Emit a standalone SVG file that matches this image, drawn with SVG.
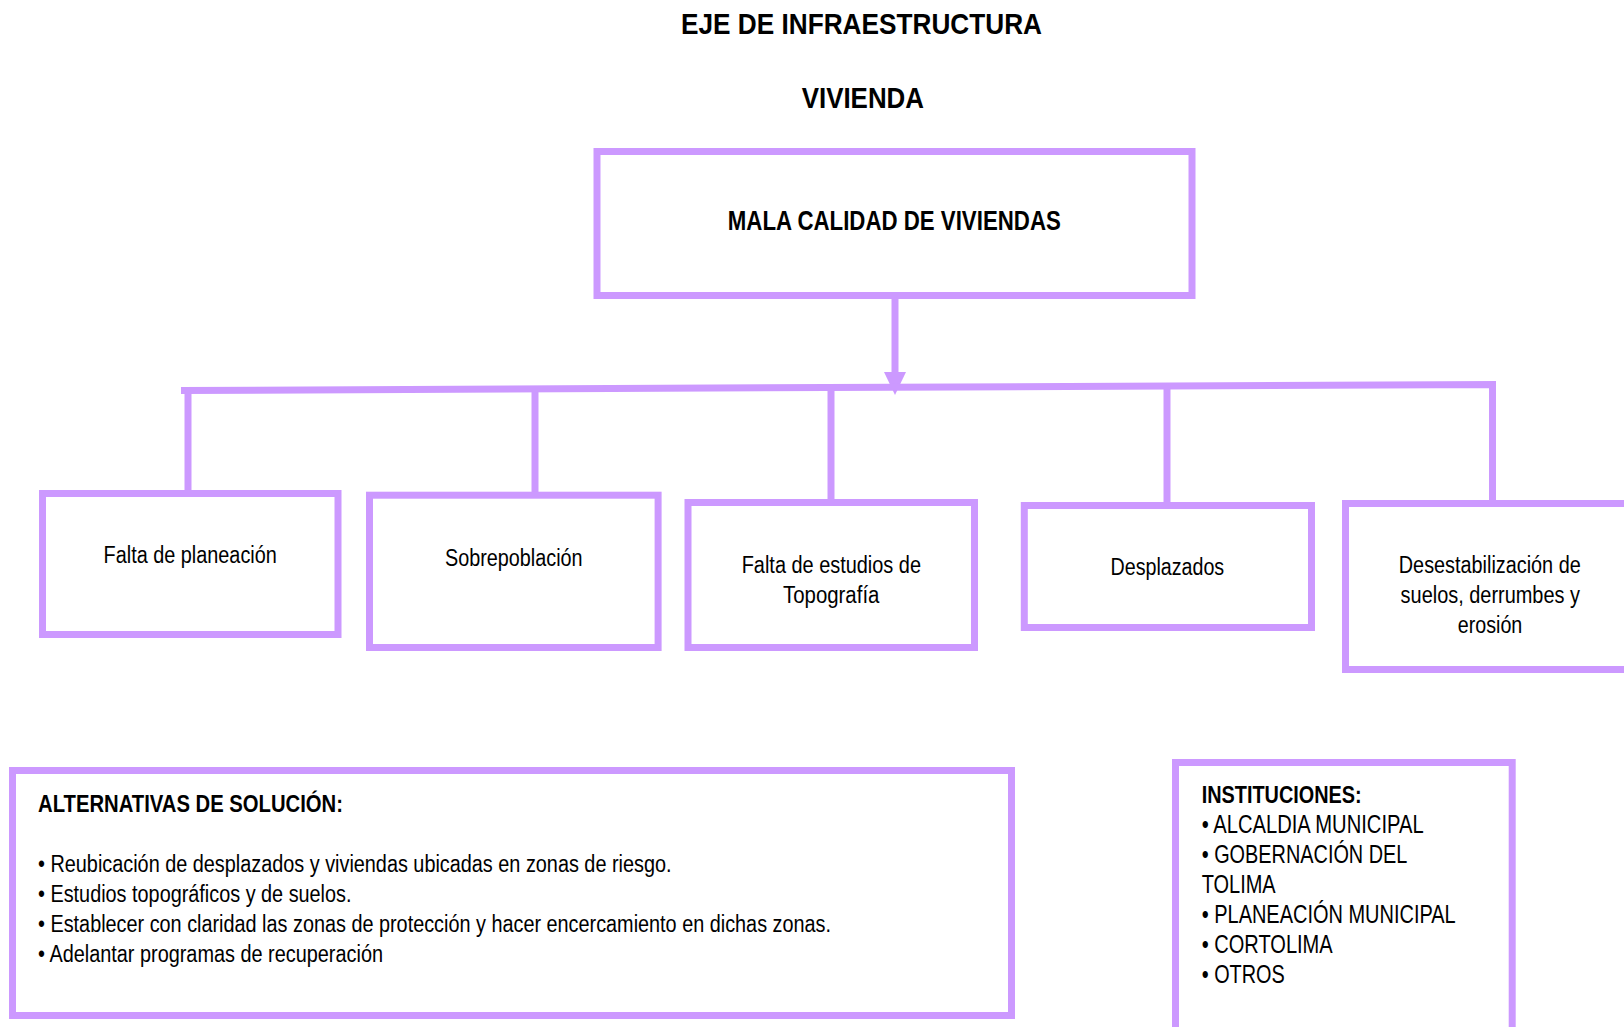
<svg xmlns="http://www.w3.org/2000/svg" width="1624" height="1027" viewBox="0 0 1624 1027">
<style>
.box{fill:#fff;stroke:#CC99FF;stroke-width:7}
.con{fill:none;stroke:#CC99FF;stroke-width:7;stroke-linejoin:miter;stroke-linecap:butt}
text{font-family:"Liberation Sans Narrow","Liberation Sans",Arial,sans-serif;fill:#000}
.t{font-size:29.5px;font-weight:bold}
.h{font-size:28px;font-weight:bold}
.b{font-size:23.5px;font-weight:bold}
.bi{font-size:24px;font-weight:bold}
.n{font-size:23.5px}
.i{font-size:25px}
</style>
<defs>
<marker id="arrow" markerUnits="userSpaceOnUse" markerWidth="24" markerHeight="24" viewBox="0 0 24 24" refX="0" refY="11" orient="auto">
<path d="M0,0 L23,11 L0,22 z" fill="#CC99FF"/>
</marker>
</defs>
<rect width="1624" height="1027" fill="#fff"/>
<g id="titles">
<text class="t" x="681" y="34" textLength="361" lengthAdjust="spacingAndGlyphs">EJE DE INFRAESTRUCTURA</text>
<text class="t" x="801.7" y="108.3" textLength="122.3" lengthAdjust="spacingAndGlyphs">VIVIENDA</text>
</g>
<g id="connectors">
<line class="con" x1="895" y1="299" x2="895" y2="372" stroke-width="7.5" marker-end="url(#arrow)"/>
<polyline class="con" points="181,390.5 1492.5,384.5 1492.5,501"/>
<line class="con" x1="188" y1="390" x2="188" y2="492"/>
<line class="con" x1="535" y1="389" x2="535" y2="502"/>
<line class="con" x1="831" y1="387.5" x2="831" y2="500"/>
<line class="con" x1="1167" y1="386" x2="1167" y2="503"/>
</g>
<g id="main">
<rect class="box" x="597" y="151.5" width="595" height="144"/>
<text class="h" x="727.8" y="229.5" textLength="333" lengthAdjust="spacingAndGlyphs">MALA CALIDAD DE VIVIENDAS</text>
</g>
<g id="cause1">
<rect class="box" x="42.5" y="493.5" width="295.5" height="141"/>
<text class="n" x="103.6" y="563.3" textLength="173.2" lengthAdjust="spacingAndGlyphs">Falta de planeación</text>
</g>
<g id="cause2">
<rect class="box" x="369.5" y="495.2" width="288.6" height="152.3"/>
<text class="n" x="445" y="565.7" textLength="137.6" lengthAdjust="spacingAndGlyphs">Sobrepoblación</text>
</g>
<g id="cause3">
<rect class="box" x="688" y="502.5" width="286.5" height="145"/>
<text class="n" x="741.7" y="573.3" textLength="179.3" lengthAdjust="spacingAndGlyphs">Falta de estudios de</text>
<text class="n" x="783" y="603.3" textLength="96.4" lengthAdjust="spacingAndGlyphs">Topografía</text>
</g>
<g id="cause4">
<rect class="box" x="1024.3" y="505.5" width="287.2" height="122"/>
<text class="n" x="1110.5" y="575" textLength="113.7" lengthAdjust="spacingAndGlyphs">Desplazados</text>
</g>
<g id="cause5">
<rect class="box" x="1345.5" y="503.5" width="400" height="166"/>
<text class="n" x="1398.8" y="573.3" textLength="181.9" lengthAdjust="spacingAndGlyphs">Desestabilización de</text>
<text class="n" x="1400.6" y="603.3" textLength="179.4" lengthAdjust="spacingAndGlyphs">suelos, derrumbes y</text>
<text class="n" x="1457.8" y="633.3" textLength="64.5" lengthAdjust="spacingAndGlyphs">erosión</text>
</g>
<g id="alternatives">
<rect class="box" x="12.5" y="770.5" width="999" height="245"/>
<text class="b" x="38" y="812" textLength="305" lengthAdjust="spacingAndGlyphs">ALTERNATIVAS DE SOLUCIÓN:</text>
<text class="n" x="38" y="871.7" textLength="633.5" lengthAdjust="spacingAndGlyphs">• Reubicación de desplazados y viviendas ubicadas en zonas de riesgo.</text>
<text class="n" x="38" y="901.7" textLength="313.5" lengthAdjust="spacingAndGlyphs">• Estudios topográficos y de suelos.</text>
<text class="n" x="38" y="931.7" textLength="793" lengthAdjust="spacingAndGlyphs">• Establecer con claridad las zonas de protección y hacer encercamiento en dichas zonas.</text>
<text class="n" x="38" y="961.7" textLength="345" lengthAdjust="spacingAndGlyphs">• Adelantar programas de recuperación</text>
</g>
<g id="institutions">
<rect class="box" x="1175.5" y="762.5" width="336.7" height="300"/>
<text class="bi" x="1201.7" y="802.5" textLength="160" lengthAdjust="spacingAndGlyphs">INSTITUCIONES:</text>
<text class="i" x="1201.7" y="833" textLength="222" lengthAdjust="spacingAndGlyphs">• ALCALDIA MUNICIPAL</text>
<text class="i" x="1201.7" y="863" textLength="205.7" lengthAdjust="spacingAndGlyphs">• GOBERNACIÓN DEL</text>
<text class="i" x="1201.7" y="893.3" textLength="74" lengthAdjust="spacingAndGlyphs">TOLIMA</text>
<text class="i" x="1201.7" y="923.3" textLength="254" lengthAdjust="spacingAndGlyphs">• PLANEACIÓN MUNICIPAL</text>
<text class="i" x="1201.7" y="953.3" textLength="131" lengthAdjust="spacingAndGlyphs">• CORTOLIMA</text>
<text class="i" x="1201.7" y="983.3" textLength="83" lengthAdjust="spacingAndGlyphs">• OTROS</text>
</g>
</svg>
